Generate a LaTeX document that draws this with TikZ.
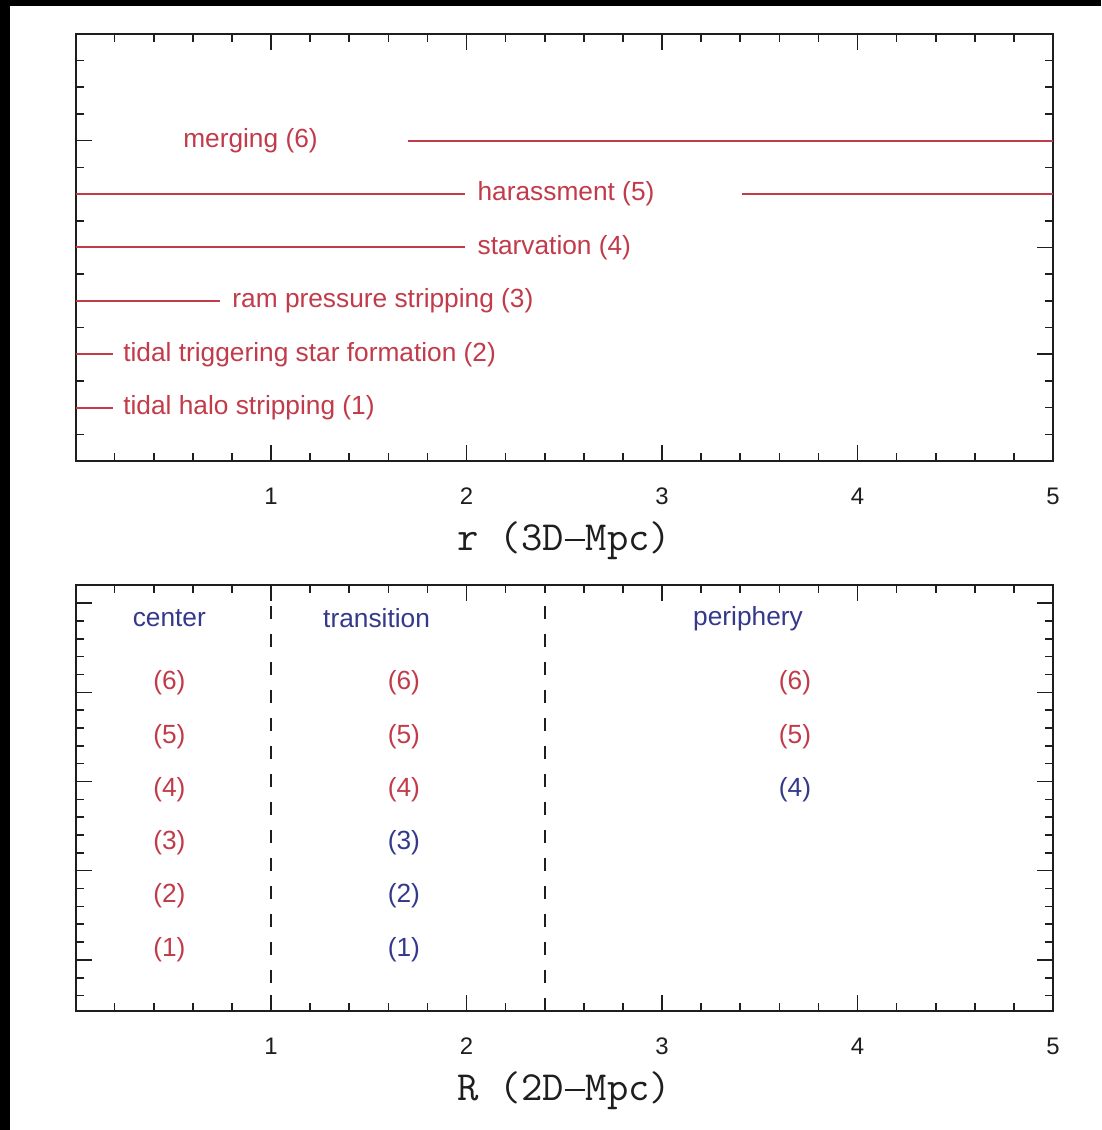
\documentclass[tikz,border=0pt]{standalone}
\usepackage{fontspec}
\setmainfont{Liberation Sans}
\usetikzlibrary{positioning}
\definecolor{envInk}{HTML}{1E1E1E}
\definecolor{envRed}{HTML}{C13B4A}
\definecolor{envBlue}{HTML}{34398C}
\newcommand{\envminus}{\makebox[0.525em]{\rule[0.24em]{0.5em}{0.05em}}}
\tikzset{
  every picture/.style={font=\fontsize{18.7}{22}\selectfont, text=envInk},
  env frame/.style={draw=envInk, line width=0.5mm},
  env tick/.style={draw=envInk, line width=0.4mm},
  env line/.style={draw=envRed, line width=0.5mm},
  env label/.style={text=envRed, inner sep=0pt},
  env zone/.style={text=envBlue, inner sep=0pt},
  env divider/.style={draw=envInk, line width=0.45mm, dash pattern=on 3.3mm off 3.7mm},
  env num/.style={inner sep=0pt, anchor=base, font=\fontsize{17}{20}\selectfont},
  env axis/.style={inner sep=0pt, font=\ttfamily\fontsize{29.5}{32}\selectfont}
}

\begin{document}
\begin{tikzpicture}
  \useasboundingbox (0,0) rectangle (275.25mm,-282.5mm);
  \fill[white] (0,0) rectangle (275.25mm,-282.5mm);
  \fill[black] (0,0) rectangle (275.25mm,-1.5mm);
  \fill[black] (0,0) rectangle (2.5mm,-282.5mm);

  % upper panel: 3D distance
  \begin{scope}[shift={(18.875mm,-115.25mm)}, x=48.875mm, y=13.35mm]
    \draw[env frame] (0,0) rectangle (5,8);
    \foreach \i in {1,...,24}
      \draw[env tick] (\i/5,0) -- ++(0,2mm) (\i/5,8) -- ++(0,-2mm);
    \foreach \i in {1,...,4}
      \draw[env tick] (\i,0) -- ++(0,4mm) (\i,8) -- ++(0,-4mm);
    \foreach \i in {1,...,15}
      \draw[env tick] (0,\i/2) -- ++(2mm,0) (5,\i/2) -- ++(-2mm,0);
    \foreach \i in {2,4,6}
      \draw[env tick] (0,\i) -- ++(4mm,0) (5,\i) -- ++(-4mm,0);
    \foreach \i in {1,...,5}
      \node[env num] (rnum\i) at (\i,0) [yshift=-10.9mm] {\i};
    \node[env axis] (raxis) at (2.5,0) [yshift=-20mm] {r (3D\envminus Mpc)};

    % processes
    \node[env label] (merge) at (0.895,6) {merging (6)};
    \coordinate (m1) at (1.70,6); \coordinate (m2) at (5,6);
    \draw[env line] (m1) -- (m2);

    \coordinate (h0) at (0,5); \coordinate (h1) at (1.99,5);
    \node[env label, right=3.2mm of h1] (harass) {harassment (5)};
    \coordinate (h2) at (3.41,5); \coordinate (h3) at (5,5);
    \draw[env line] (h0) -- (h1) (h2) -- (h3);

    \coordinate (s0) at (0,4); \coordinate (s1) at (1.99,4);
    \node[env label, right=3.2mm of s1] (starve) {starvation (4)};
    \draw[env line] (s0) -- (s1);

    \coordinate (p0) at (0,3); \coordinate (p1) at (0.74,3);
    \node[env label, right=3mm of p1] (ram) {ram pressure stripping (3)};
    \draw[env line] (p0) -- (p1);

    \coordinate (t0) at (0,2); \coordinate (t1) at (0.19,2);
    \node[env label, right=2.6mm of t1] (trigger) {tidal triggering star formation (2)};
    \draw[env line] (t0) -- (t1);

    \coordinate (d0) at (0,1); \coordinate (d1) at (0.19,1);
    \node[env label, right=2.6mm of d1] (halo) {tidal halo stripping (1)};
    \draw[env line] (d0) -- (d1);
  \end{scope}

  % lower panel: projected distance
  \begin{scope}[shift={(18.875mm,-252.75mm)}, x=48.875mm, y=13.3125mm]
    \draw[env frame] (0,0) rectangle (5,8);
    \foreach \i in {1,...,24}
      \draw[env tick] (\i/5,0) -- ++(0,2mm) (\i/5,8) -- ++(0,-2mm);
    \foreach \i in {1,...,4}
      \draw[env tick] (\i,0) -- ++(0,4mm) (\i,8) -- ++(0,-4mm);
    \foreach \k in {-2,...,20}
      \draw[env tick] (0,0.96+0.335*\k) -- ++(2mm,0) (5,0.96+0.335*\k) -- ++(-2mm,0);
    \foreach \k in {0,5,...,20}
      \draw[env tick] (0,0.96+0.335*\k) -- ++(4mm,0) (5,0.96+0.335*\k) -- ++(-4mm,0);
    \foreach \i in {1,...,5}
      \node[env num] (Rnum\i) at (\i,0) [yshift=-10.9mm] {\i};
    \node[env axis] (Raxis) at (2.5,0) [yshift=-20mm] {R (2D\envminus Mpc)};

    \draw[env divider] (1,0) -- (1,8);
    \draw[env divider] (2.4,0) -- (2.4,8);

    \node[env zone] (center) at (0.48,7.37) {center};
    \node[env zone] (trans) at (1.54,7.37) {transition};
    \node[env zone] (periph) at (3.44,7.37) {periphery};

    \foreach \k in {1,...,6}
      \node[env label] (c\k) at (0.48,0.16+\k) {(\k)};
    \foreach \k in {1,2,3}
      \node[env zone] (t\k) at (1.68,0.16+\k) {(\k)};
    \foreach \k in {4,5,6}
      \node[env label] (t\k) at (1.68,0.16+\k) {(\k)};
    \node[env zone] (p4) at (3.68,4.16) {(4)};
    \foreach \k in {5,6}
      \node[env label] (p\k) at (3.68,0.16+\k) {(\k)};
  \end{scope}
\end{tikzpicture}
\end{document}
